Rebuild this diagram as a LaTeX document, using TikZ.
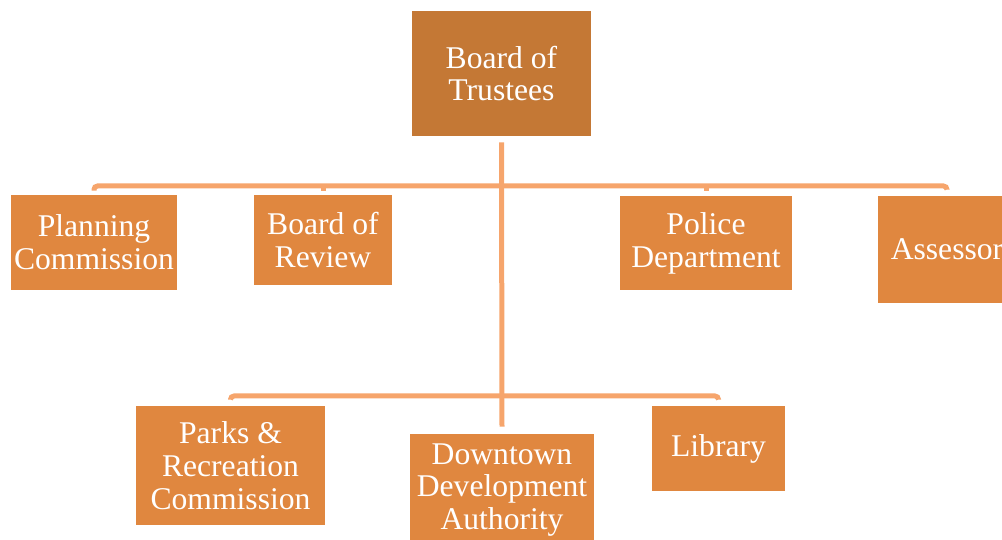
\documentclass[tikz,border=0pt]{standalone}
\usepackage{fontspec}
\setmainfont{Liberation Serif}
\definecolor{topfill}{HTML}{C47835}
\definecolor{unitfill}{HTML}{E0873F}
\definecolor{linkcol}{HTML}{F6A56C}
\tikzset{
    unit/.style={fill=unitfill, text=white, align=center, inner sep=2pt,
        font=\fontsize{18}{18.7}\selectfont},
    link/.style={draw=linkcol, line width=0.1cm, rounded corners=2pt}
}

\begin{document}
\begin{tikzpicture}[x=0.02cm, y=-0.02cm]
            \useasboundingbox (0,0) rectangle (1002,540);
            \node[unit, fill=topfill, minimum width=3.58cm, minimum height=2.5cm] (bot) at (501.5,73.5) {Board of\\Trustees};
            \node[unit, minimum width=3.32cm, minimum height=1.9cm] (pc) at (94,242.5) {Planning\\Commission};
            \node[unit, minimum width=2.76cm, minimum height=1.8cm] (br) at (323,240) {Board of\\Review};
            \node[unit, minimum width=3.44cm, minimum height=1.88cm] (pd) at (706,243) {Police\\Department};
            \node[unit, minimum width=2.76cm, minimum height=2.14cm] (as) at (947,249.5) {Assessor};
            \node[unit, minimum width=3.78cm, minimum height=2.38cm] (pr) at (230.5,465.5) {Parks \&\\Recreation\\Commission};
            \node[unit, minimum width=3.68cm, minimum height=2.24cm] (dda) at (502,490) {Downtown\\Development\\Authority};
            \node[unit, minimum width=2.66cm, minimum height=1.7cm] (lib) at (718.5,448.5) {Library};
            \coordinate (busA) at (501,186);
            \coordinate (busB) at (501,396);
            \draw[link] ([yshift=-0.12cm]bot.south) -- ([yshift=0.14cm]dda.north);
            \draw[link] ([yshift=0.08cm]pc.north) |- (busA) -| ([yshift=0.12cm]as.north);
            \draw[link] ([yshift=0.08cm]br.north) -- (br.north |- busA);
            \draw[link] ([yshift=0.1cm]pd.north) -- (pd.north |- busA);
            \draw[link] ([yshift=0.12cm]pr.north) |- (busB) -| ([yshift=0.12cm]lib.north);
        \end{tikzpicture}
\end{document}
